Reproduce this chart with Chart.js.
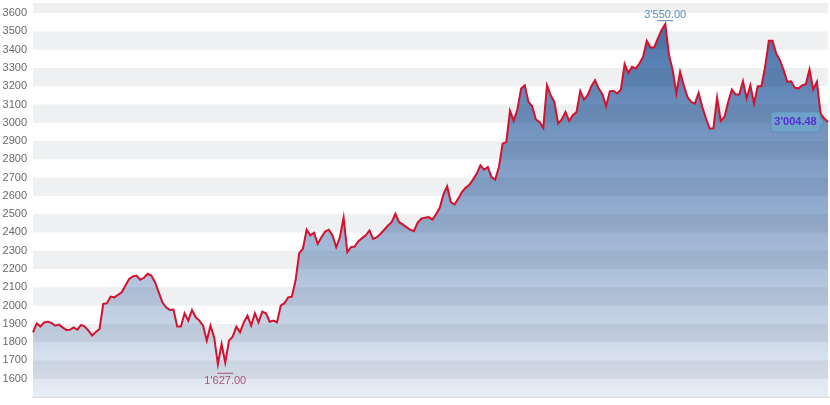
<!DOCTYPE html>
<html><head><meta charset="utf-8">
<script src="https://cdn.jsdelivr.net/npm/chart.js@4/dist/chart.umd.min.js"></script>
<style>html,body{margin:0;padding:0;background:#fff}#wrap{width:830px;height:405px;position:relative}</style>
</head><body><div id="wrap"><canvas id="c" width="830" height="405"></canvas></div>
<script>
// Closing values
const closes = [
1854,1903,1885,1908,1912,1905,1890,1896,1881,1867,
1868,1881,1868,1894,1885,1863,1836,1856,1872,2009,
2013,2049,2045,2059,2073,2110,2146,2159,2164,2141,
2152,2174,2164,2128,2073,2018,1991,1976,1978,1885,
1885,1958,1918,1976,1936,1918,1890,1808,1890,1826,
1680,1790,1689,1808,1830,1885,1854,1908,1945,1890,
1958,1908,1967,1958,1912,1918,1908,2000,2013,2045,
2049,2137,
2287,2311,2415,2384,2398,2338,2374,2405,2415,2384,
2319,2374,2481,2292,2319,2323,2352,2369,2384,2411,
2365,2374,2393,2415,2438,2456,2502,2456,2444,2429,
2415,2407,2453,2475,2481,2484,2470,2499,2535,2608,
2652,2566,2553,2585,2621,2645,2661,2689,2722,2767,
2744,2758,2703,2689,2758,2886,2895,3065,3010,3072,
3187,3205,3114,3090,3018,3004,2972,3205,3151,3114,
2996,3018,3059,3010,3041,3059,3174,3127,3151,3200,
3233,3187,3156,3090,3173,3174,3160,3182,3321,3273,
3306,3297,3324,3361,3448,3412,3412,3461,3507,3540,
3370,3288,3160,3278,3205,3141,3114,3105,3163,3087,
3023,2968,2968,3138,3010,3032,3114,3182,3155,3155,
3227,3133,3205,3105,3200,3200,3306,3448,3448,3379,
3342,3288,3224,3227,3193,3187,3205,3211,3292,3182,
3224,3050,3023,3004.48
];
const categories = closes.map((_, i) => String(i + 1));
const yTicks = [1600,1700,1800,1900,2000,2100,2200,2300,2400,2500,2600,2700,2800,2900,3000,3100,3200,3300,3400,3500,3600];
const bandStarts = [1600,1800,2000,2200,2400,2600,2800,3000,3200,3400,3600];
const yMin = 1500, yMax = 3655;
const highValue = 3550, highIndex = 171;
const lowValue = 1627, lowIndex = 52;
const lastValue = 3004.48;

function fmt(v) {
  const parts = v.toFixed(2).split('.');
  parts[0] = parts[0].replace(/\B(?=(\d{3})+(?!\d))/g, "'");
  return parts.join('.');
}

const FONT = "'Liberation Sans', Arial, sans-serif";

const bandsPlugin = {
  id: 'bands',
  beforeDatasetDraw(chart) {
    const {ctx, chartArea, scales: {y}} = chart;
    ctx.save();
    ctx.beginPath();
    ctx.rect(chartArea.left, chartArea.top, chartArea.right - chartArea.left, chartArea.bottom - chartArea.top);
    ctx.clip();
    ctx.fillStyle = 'rgba(40,50,70,0.075)';
    bandStarts.forEach(b => {
      const y1 = y.getPixelForValue(b + 100);
      const y2 = y.getPixelForValue(b);
      ctx.fillRect(chartArea.left, y1, chartArea.right - chartArea.left, y2 - y1);
    });
    ctx.restore();
  }
};

const annotPlugin = {
  id: 'annot',
  afterDatasetsDraw(chart) {
    const {ctx, scales: {x, y}} = chart;
    ctx.save();
    ctx.font = '11px ' + FONT;
    ctx.textAlign = 'center';
    ctx.textBaseline = 'middle';
    // high
    let hx = x.getPixelForValue(highIndex), hy = y.getPixelForValue(highValue);
    ctx.strokeStyle = '#4f86b3'; ctx.lineWidth = 1;
    ctx.beginPath(); ctx.moveTo(hx - 8, hy - 1.5); ctx.lineTo(hx + 8, hy - 1.5); ctx.stroke();
    ctx.fillStyle = '#5a8db5';
    ctx.fillText(fmt(highValue), hx, hy - 7.5);
    // low
    let lx = x.getPixelForValue(lowIndex), ly = y.getPixelForValue(lowValue);
    ctx.strokeStyle = '#a4506a';
    ctx.beginPath(); ctx.moveTo(lx - 8, ly - 0.5); ctx.lineTo(lx + 8, ly - 0.5); ctx.stroke();
    ctx.fillStyle = '#a65a72';
    ctx.fillText(fmt(lowValue), lx, ly + 7);
    // last value label
    const ex = x.getPixelForValue(closes.length - 1), ey = y.getPixelForValue(lastValue);
    const bw = 49, bh = 20, right = ex - 8, left = right - bw, top = ey - bh / 2;
    ctx.beginPath();
    const r = 3;
    ctx.moveTo(left + r, top);
    ctx.lineTo(right - r, top);
    ctx.quadraticCurveTo(right, top, right, top + r);
    ctx.lineTo(right, ey - 4);
    ctx.lineTo(right + 4, ey);
    ctx.lineTo(right, ey + 4);
    ctx.lineTo(right, top + bh - r);
    ctx.quadraticCurveTo(right, top + bh, right - r, top + bh);
    ctx.lineTo(left + r, top + bh);
    ctx.quadraticCurveTo(left, top + bh, left, top + bh - r);
    ctx.lineTo(left, top + r);
    ctx.quadraticCurveTo(left, top, left + r, top);
    ctx.closePath();
    ctx.fillStyle = 'rgb(112,163,200)';
    ctx.fill();
    ctx.strokeStyle = '#5a8fb5';
    ctx.lineWidth = 1;
    ctx.stroke();
    ctx.font = 'bold 11px ' + FONT;
    ctx.fillStyle = '#5a2ed6';
    ctx.fillText(fmt(lastValue), left + bw / 2, ey + 0.5);
    ctx.restore();
  }
};

new Chart(document.getElementById('c'), {
  type: 'line',
  data: {
    labels: categories,
    datasets: [{
      data: closes,
      borderColor: '#d2122e',
      borderWidth: 2,
      pointRadius: 0,
      tension: 0,
      fill: 'start',
      backgroundColor: (context) => {
        const {chart} = context;
        const {ctx, chartArea} = chart;
        if (!chartArea) return 'rgba(100,140,190,0.6)';
        const g = ctx.createLinearGradient(0, chartArea.top + 15, 0, chartArea.bottom);
        g.addColorStop(0, 'rgb(72,115,170)');
        g.addColorStop(0.5, 'rgb(145,171,206)');
        g.addColorStop(1, 'rgb(232,237,245)');
        return g;
      }
    }]
  },
  options: {
    responsive: false,
    devicePixelRatio: 1,
    animation: false,
    layout: {padding: {top: 3, right: 2, left: 0, bottom: 0}},
    plugins: {legend: {display: false}, tooltip: {enabled: false}},
    scales: {
      x: {
        type: 'category',
        offset: false,
        ticks: {display: false},
        grid: {display: false, drawTicks: false},
        border: {display: true, color: '#dcdcdc', width: 2},
        afterFit: (s) => { s.height = 8; s.paddingLeft = 0; s.paddingRight = 0; }
      },
      y: {
        min: yMin, max: yMax,
        grid: {display: false, drawTicks: false},
        border: {display: false},
        ticks: {font: {size: 11, family: FONT}, color: '#6a6a6a', padding: 6, callback: (v) => String(v)},
        afterBuildTicks: (s) => { s.ticks = yTicks.map(v => ({value: v})); },
        afterFit: (s) => { s.width = 33; s.paddingTop = 0; s.paddingBottom = 0; }
      }
    }
  },
  plugins: [bandsPlugin, annotPlugin]
});
</script></body></html>
